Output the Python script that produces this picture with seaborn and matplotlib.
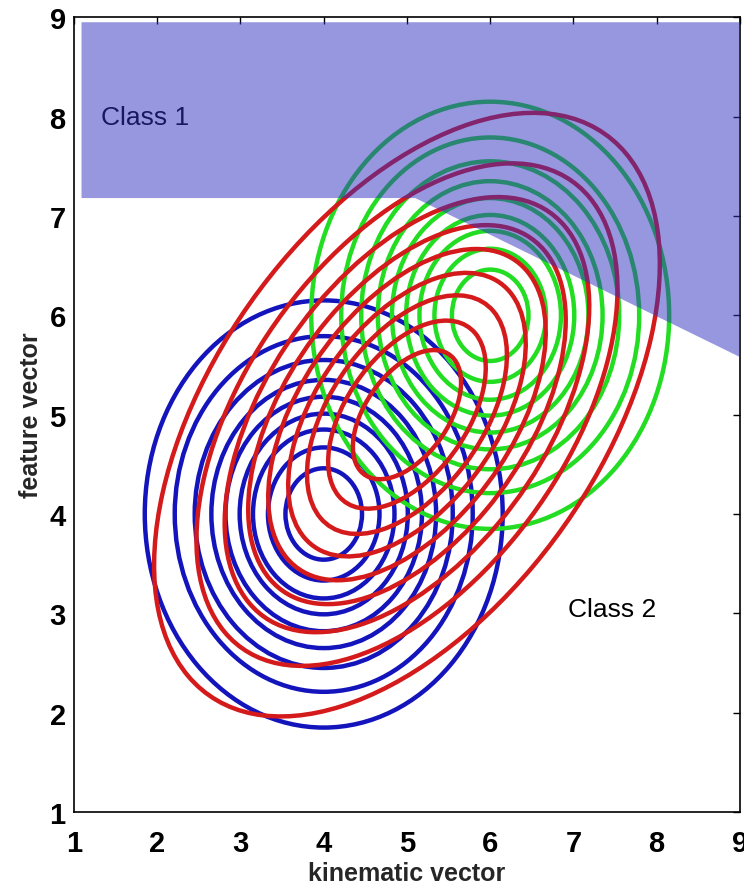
import matplotlib
matplotlib.use("Agg")
import matplotlib.pyplot as plt
from matplotlib.patches import Ellipse
import seaborn as sns

ring_radii = [2.15, 1.79, 1.55, 1.35, 1.18, 1.01, 0.85, 0.67, 0.46]

# each class: centre, semi-axis scale (major, minor) and tilt in degrees
blue_center = (4.0, 4.0)
blue_scale = (1.0, 1.0)
blue_angle = 0

green_center = (6.0, 6.0)
green_scale = (1.0, 1.0)
green_angle = 0

red_center = (5.0, 5.0)
red_scale = (1.73, 1.0)
red_angle = 45

# shaded decision region for class 1
class1_x = [1.09, 9.0, 9.0, 5.1, 1.09]
class1_y = [8.95, 8.95, 5.58, 7.18, 7.18]

ticks = [1, 2, 3, 4, 5, 6, 7, 8, 9]

sns.set_theme(style="white")
plt.rcParams['font.family'] = ['Liberation Sans', 'DejaVu Sans']

fig = plt.figure(figsize=(7.44, 8.95), dpi=100)
ax = fig.add_axes([0.0995, 0.0916, 0.895, 0.888])


def draw_rings(center, scale, angle, color, z):
    for r in ring_radii:
        ax.add_patch(Ellipse(center, 2 * r * scale[0], 2 * r * scale[1], angle=angle,
                             fill=False, edgecolor=color, linewidth=3.2, zorder=z))


draw_rings(blue_center, blue_scale, blue_angle, "#1414bc", 2)
draw_rings(green_center, green_scale, green_angle, "#22dd22", 3)
draw_rings(red_center, red_scale, red_angle, "#d41a1a", 4)

ax.text(1.33, 8.0, "Class 1", fontsize=19, color="black", va="center", ha="left", zorder=4.5)
ax.text(6.93, 3.04, "Class 2", fontsize=19, color="black", va="center", ha="left", zorder=4.5)

# translucent class-1 region over the contours
ax.fill(class1_x, class1_y, color="#3131c1", alpha=0.5, linewidth=0, zorder=5)

ax.set_xlim(1, 9)
ax.set_ylim(1, 9)
ax.set_xticks(ticks)
ax.set_yticks(ticks)
ax.set_xticklabels([str(t) for t in ticks], fontweight="bold")
ax.set_yticklabels([str(t) for t in ticks], fontweight="bold")
ax.tick_params(direction="in", length=5, width=1, top=True, right=True,
               labelsize=21, colors="black")
ax.tick_params(axis="x", pad=12)
ax.tick_params(axis="y", pad=6)
for s in ax.spines.values():
    s.set_visible(True)
    s.set_color("black")
    s.set_linewidth(1.2)

ax.set_xlabel("kinematic vector", fontsize=18, fontweight="bold", labelpad=3)
ax.set_ylabel("feature vector", fontsize=18, fontweight="bold", labelpad=5)

fig.savefig("out.png", dpi=100, facecolor="white")
